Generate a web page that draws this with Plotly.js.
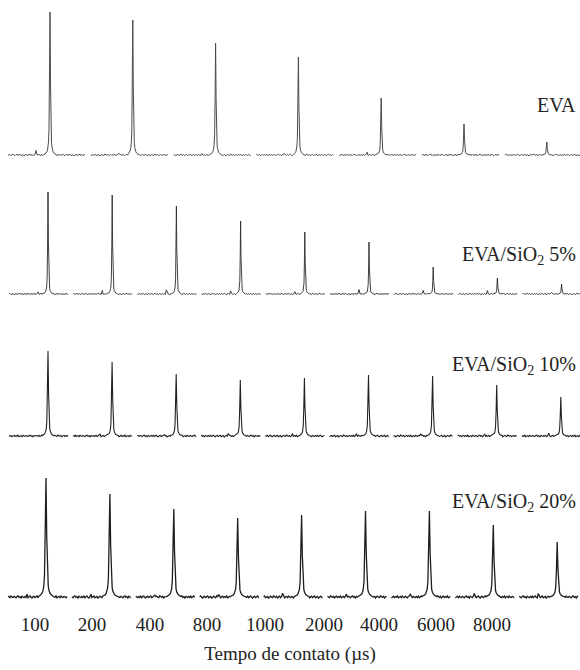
<!DOCTYPE html>
<html>
<head>
<meta charset="utf-8">
<script src="https://cdn.plot.ly/plotly-3.0.1.min.js"></script>
<style>html,body{margin:0;padding:0;background:#fff;}#chart{width:580px;height:670px;}</style>
</head>
<body>
<div id="chart"></div>
<script>
// ---- DATA ----
var contactTimes = ['100', '200', '400', '800', '1000', '2000', '4000', '6000', '8000'];
var sampleNames = ['EVA', 'EVA/SiO<sub>2</sub> 5%', 'EVA/SiO<sub>2</sub> 10%', 'EVA/SiO<sub>2</sub> 20%'];

// main peak intensity of each spectrum (arbitrary units)
var evaPeak     = [143, 135, 112, 98, 57, 31, 13];
var sio2_5Peak  = [102, 99, 88, 73, 62, 52, 27, 16, 10];
var sio2_10Peak = [85, 74, 62, 56, 58, 61, 60, 51, 39];
var sio2_20Peak = [119, 103, 88, 79, 82, 86, 86, 72, 55];

// small side peak of each spectrum (arbitrary units)
var evaMinor     = [5, 2, 1, 2, 3, 1, 1];
var sio2_5Minor  = [2, 3, 4, 3, 2, 5, 4, 3, 2];
var sio2_10Minor = [1, 2, 2, 3, 2, 2, 3, 2, 2];
var sio2_20Minor = [2, 2, 3, 3, 4, 3, 3, 4, 3];

// normalized line shape of a resonance (offset, relative intensity)
var profileOffset = [-5, -4, -3, -2.5, -2, -1.5, -1, -0.5, 0, 0.5, 1, 1.5, 2, 2.5, 3, 4, 5];
var profileValue  = [0.005, 0.012, 0.025, 0.035, 0.055, 0.09, 0.18, 0.5, 1, 0.5, 0.18, 0.09, 0.055, 0.035, 0.025, 0.012, 0.005];

// baseline noise of the recorded spectra (arbitrary units)
var baselineNoise = [0.4, -0.3, 0.6, -0.5, 0.2, 0.8, -0.2, -0.7, 0.3, 0.5, -0.4, 0.1, 0.7, -0.6, 0.0, 0.4, -0.8, 0.3, 0.6, -0.1,
                     -0.5, 0.9, 0.2, -0.3, 0.5, -0.7, 0.1, 0.6, -0.4, 0.3, -0.2, 0.8, -0.6, 0.2, 0.4, -0.5, 0.7, -0.1, -0.3, 0.5,
                     0.1, -0.6, 0.4, 0.8, -0.2, 0.3, -0.7, 0.5, 0.0, -0.4];

// ---- STYLE / LAYOUT ----
var W = 580, H = 670;
var rows = [
  {peaks: evaPeak,     minor: evaMinor,     minorShift: -14, start: 8, pitch: 82.8, width: 77, peakAt: 42, baseline: 155, noiseAmp: 1.0, lw: 1.0, pw: 1.0, color: '#4a4a4a', labelY: 105},
  {peaks: sio2_5Peak,  minor: sio2_5Minor,  minorShift: -10, start: 9, pitch: 64.2, width: 59, peakAt: 39, baseline: 294, noiseAmp: 0.8, lw: 0.9, pw: 0.8, color: '#2a2a2a', labelY: 255},
  {peaks: sio2_10Peak, minor: sio2_10Minor, minorShift: -12, start: 9, pitch: 64.1, width: 59, peakAt: 39, baseline: 436, noiseAmp: 1.1, lw: 1.1, pw: 1.15, color: '#222222', labelY: 365},
  {peaks: sio2_20Peak, minor: sio2_20Minor, minorShift: -19, start: 8, pitch: 63.9, width: 59, peakAt: 38, baseline: 597, noiseAmp: 1.4, lw: 1.3, pw: 1.5, color: '#1e1e1e', labelY: 502}
];
var tickPos = [35, 92, 150, 207, 265, 324, 379, 436, 492];

var traces = [];
var layout = {
  width: W, height: H,
  margin: {l: 0, r: 0, t: 0, b: 0},
  paper_bgcolor: '#ffffff', plot_bgcolor: 'rgba(0,0,0,0)',
  showlegend: false,
  font: {family: 'Liberation Serif, DejaVu Serif, serif', color: '#222'},
  xaxis: {
    range: [0, W], domain: [0, 1], anchor: 'free', position: (H - 611) / H,
    showgrid: false, zeroline: false, showline: false, ticks: '',
    tickmode: 'array', tickvals: tickPos, ticktext: contactTimes,
    tickfont: {size: 19, color: '#222'},
    title: {text: 'Tempo de contato (\u00b5s)', font: {size: 19, color: '#222'}, standoff: 12}
  },
  annotations: []
};

var yLow = -6, yHigh = 150;
rows.forEach(function (r, ri) {
  var axName = ri === 0 ? 'yaxis' : 'yaxis' + (ri + 1);
  var axRef = ri === 0 ? 'y' : 'y' + (ri + 1);
  layout[axName] = {
    domain: [(H - r.baseline + yLow) / H, (H - r.baseline + yHigh) / H],
    range: [yLow, yHigh], anchor: 'x',
    visible: false, showgrid: false, zeroline: false
  };
  var pw = r.pw;
  r.peaks.forEach(function (h, si) {
    var x0 = r.start + si * r.pitch;
    var xp = x0 + r.peakAt;
    var xs = [], ys = [];
    var lo = xp + profileOffset[0] * pw, hi = xp + profileOffset[profileOffset.length - 1] * pw;
    var k, idx, x, y;
    // left baseline
    for (k = 0; k <= r.width; k++) {
      x = x0 + k;
      if (x >= lo) break;
      idx = (k + si * 7 + ri * 11) % baselineNoise.length;
      y = baselineNoise[idx] * r.noiseAmp;
      if (Math.round(x - xp) === r.minorShift) y += r.minor[si];
      xs.push(x); ys.push(y);
    }
    // resonance
    for (var p = 0; p < profileOffset.length; p++) {
      xs.push(xp + profileOffset[p] * pw);
      ys.push(h * profileValue[p]);
    }
    // right baseline
    for (k = 0; k <= r.width; k++) {
      x = x0 + k;
      if (x <= hi) continue;
      idx = (k + si * 7 + ri * 11) % baselineNoise.length;
      y = baselineNoise[idx] * r.noiseAmp;
      xs.push(x); ys.push(y);
    }
    traces.push({
      type: 'scatter', mode: 'lines', x: xs, y: ys,
      xaxis: 'x', yaxis: axRef,
      line: {color: r.color, width: r.lw, shape: 'linear'},
      hoverinfo: 'skip'
    });
  });
  layout.annotations.push({
    xref: 'paper', yref: 'paper', x: 578 / W, y: (H - r.labelY) / H,
    xanchor: 'right', yanchor: 'middle', showarrow: false,
    text: sampleNames[ri], font: {size: 20, color: '#222'}
  });
});

Plotly.newPlot('chart', traces, layout, {displayModeBar: false, staticPlot: true});
</script>
</body>
</html>
